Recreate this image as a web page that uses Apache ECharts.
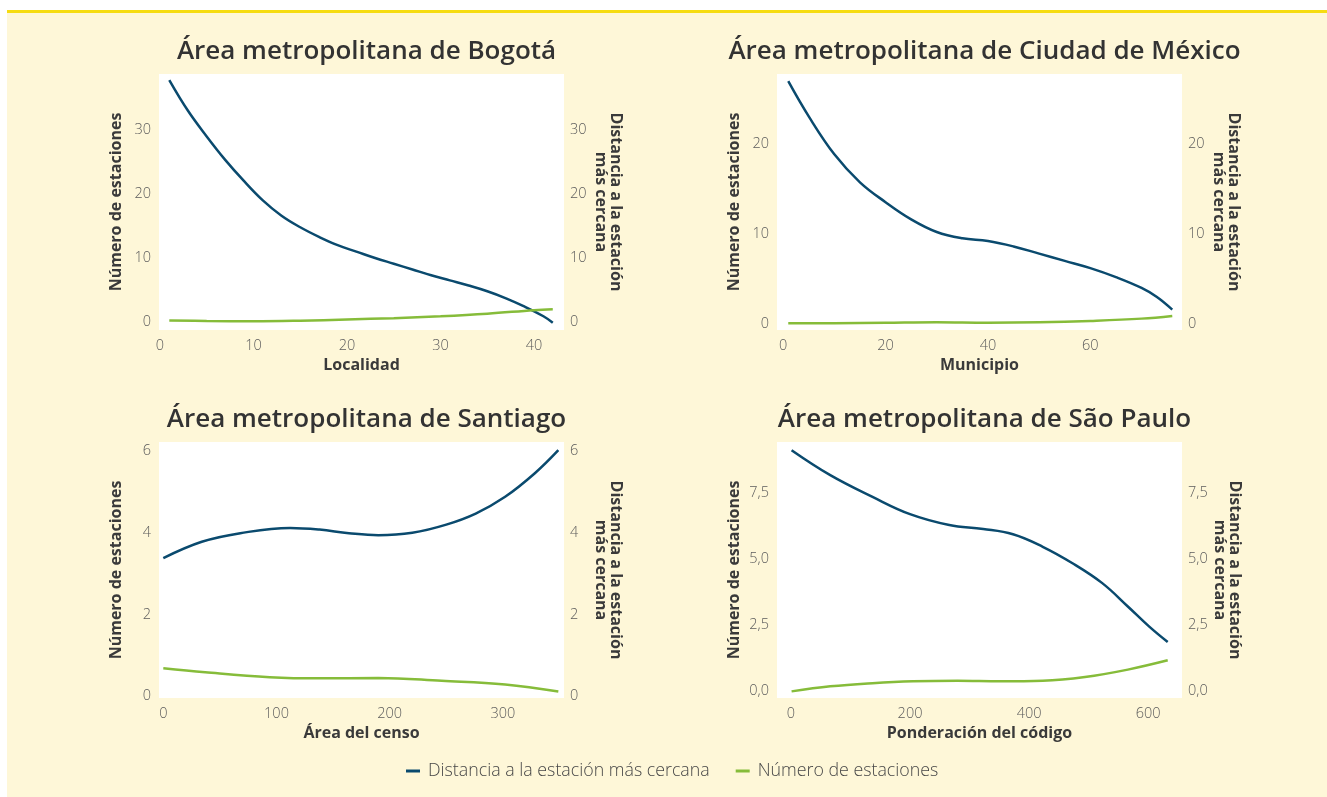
<!DOCTYPE html>
<html><head><meta charset="utf-8">
<script src="https://cdn.jsdelivr.net/npm/echarts@6/dist/echarts.min.js"></script>
<style>
html,body{margin:0;padding:0;background:#fff;width:1327px;height:797px;overflow:hidden}
#bg{position:absolute;left:7px;top:10px;width:1320px;height:787px;background:#FEF7D8;border-top:3px solid #F6DC11;box-sizing:border-box}
#chart{position:absolute;left:0;top:0;width:1327px;height:797px}
</style></head><body><div id="bg"></div><div id="chart"></div>
<script>
// ---- Data ----
const bogotaDistX = [1,3,5,7,9,11,13,15,17,19,21,23,25,27,29,31,33,35,37,39,41,42];
const bogotaDistY = [37.8,33.0,29.0,25.3,22.0,19.0,16.6,14.8,13.3,12.0,11.0,10.0,9.1,8.2,7.3,6.5,5.7,4.8,3.7,2.4,0.9,-0.1];
const bogotaNumX = [1,5,10,15,20,25,30,35,40,42];
const bogotaNumY = [0.25,0.15,0.1,0.2,0.4,0.6,0.9,1.3,1.85,2.0];
const bogotaXTicks = [0,10,20,30,40];
const bogotaYTicks = [0,10,20,30];

const cdmxDistX = [1,5,10,15,20,25,30,35,40,45,50,55,60,65,70,73,76];
const cdmxDistY = [26.9,23.0,18.8,15.7,13.5,11.6,10.2,9.5,9.2,8.6,7.8,7.0,6.2,5.2,4.0,3.0,1.6];
const cdmxNumX = [1,10,20,30,40,50,60,70,76];
const cdmxNumY = [0.08,0.1,0.15,0.2,0.15,0.2,0.35,0.6,0.9];
const cdmxXTicks = [0,20,40,60];
const cdmxYTicks = [0,10,20];

const santDistX = [0,34,68,112,138,164,190,220,250,276,302,328,349];
const santDistY = [3.38,3.78,3.99,4.12,4.08,3.99,3.94,4.0,4.2,4.47,4.88,5.45,6.02];
const santNumX = [0,37,94,138,190,246,302,349];
const santNumY = [0.69,0.59,0.47,0.44,0.45,0.38,0.29,0.12];
const santXTicks = [0,100,200,300];
const santYTicks = [0,2,4,6];

const spDistX = [1,66,137,200,266,323,373,423,473,523,566,602,633];
const spDistY = [9.09,8.15,7.33,6.68,6.27,6.12,5.92,5.45,4.83,4.08,3.2,2.44,1.86];
const spNumX = [1,66,137,205,280,352,423,494,566,633];
const spNumY = [0.0,0.19,0.31,0.38,0.4,0.38,0.4,0.54,0.82,1.17];
const spXTicks = [0,200,400,600];
const spYTicks = [0,2.5,5,7.5];

const titles = ['Área metropolitana de Bogotá','Área metropolitana de Ciudad de México','Área metropolitana de Santiago','Área metropolitana de São Paulo'];
const xNames = ['Localidad','Municipio','Área del censo','Ponderación del código'];
const leftYName = 'Número de estaciones';
const rightYName = 'Distancia a la estación\nmás cercana';
const distName = 'Distancia a la estación más cercana';
const numName = 'Número de estaciones';

// ---- Layout ----
const FONT = 'Open Sans';
const panels = [
  {left:159, top:74, xMin:-0.1, xMax:43.2, yMin:-1.25, yMax:38.75, xT:bogotaXTicks, yT:bogotaYTicks, dec:false,
   dist:[bogotaDistX,bogotaDistY], num:[bogotaNumX,bogotaNumY]},
  {left:777, top:74, xMin:-1.2, xMax:77.9, yMin:-0.66, yMax:27.7, xT:cdmxXTicks, yT:cdmxYTicks, dec:false,
   dist:[cdmxDistX,cdmxDistY], num:[cdmxNumX,cdmxNumY]},
  {left:159, top:442, xMin:-3.8, xMax:354, yMin:-0.04, yMax:6.22, xT:santXTicks, yT:santYTicks, dec:false,
   dist:[santDistX,santDistY], num:[santNumX,santNumY]},
  {left:777, top:442, xMin:-23.5, xMax:657, yMin:-0.25, yMax:9.4, xT:spXTicks, yT:spYTicks, dec:true,
   dist:[spDistX,spDistY], num:[spNumX,spNumY]}
];
const W = 405, H = 256;
const BLUE = '#0a4a6e', GREEN = '#86bc3a';
const pairs = (xs, ys) => xs.map((x, i) => [x, ys[i]]);
const labelStyle = {color:'#5c5c5c', fontSize:14.5, fontFamily:FONT, fontWeight:300};
const nameStyle = {color:'#3a3a3a', fontSize:16, fontFamily:FONT, fontWeight:'bold'};

const option = {
  animation:false,
  title: panels.map((p, i) => ({
    text: titles[i], left: p.left + W/2, top: p.top - 40, textAlign:'center',
    textStyle:{color:'#333', fontSize:26, fontWeight:600, fontFamily:FONT}
  })),
  legend: {
    left: 406, top: 762, padding:0, itemWidth:14, itemHeight:3, itemGap:26, icon:'rect',
    data:[distName, numName],
    textStyle:{color:'#474747', fontSize:17.8, fontFamily:FONT, fontWeight:300, padding:[0,0,0,3]}
  },
  grid: panels.map(p => ({left:p.left, top:p.top, width:W, height:H, show:true, backgroundColor:'#fff',
    borderWidth:0, containLabel:false, outerBoundsMode:'none'})),
  xAxis: panels.map((p, i) => ({
    type:'value', gridIndex:i, min:p.xMin, max:p.xMax,
    name:xNames[i], nameLocation:'middle', nameGap:27, nameTextStyle:nameStyle,
    axisLine:{show:false}, axisTick:{show:false}, splitLine:{show:false},
    axisLabel:Object.assign({customValues:p.xT, margin:8}, labelStyle)
  })),
  yAxis: panels.flatMap((p, i) => {
    const fmt = v => p.dec ? v.toFixed(1).replace('.', ',') : String(v);
    const base = {type:'value', gridIndex:i, min:p.yMin, max:p.yMax, nameLocation:'middle',
      axisLine:{show:false}, axisTick:{show:false}, splitLine:{show:false}};
    return [
      Object.assign({}, base, {position:'left', name:leftYName, nameRotate:90, nameGap:35,
        nameTextStyle:nameStyle,
        axisLabel:Object.assign({customValues:p.yT, margin:8, formatter:fmt}, labelStyle)}),
      Object.assign({}, base, {position:'right', name:rightYName, nameRotate:-90, nameGap:29,
        nameTextStyle:Object.assign({lineHeight:15}, nameStyle),
        axisLabel:Object.assign({customValues:p.yT, margin:6, formatter:fmt}, labelStyle)})
    ];
  }),
  series: panels.flatMap((p, i) => [
    {type:'line', name:distName, xAxisIndex:i, yAxisIndex:2*i+1, data:pairs(p.dist[0], p.dist[1]),
     smooth:0.4, showSymbol:false, color:BLUE, lineStyle:{color:BLUE, width:2.5}},
    {type:'line', name:numName, xAxisIndex:i, yAxisIndex:2*i, data:pairs(p.num[0], p.num[1]),
     smooth:0.4, showSymbol:false, color:GREEN, lineStyle:{color:GREEN, width:2.5}}
  ])
};
const chart = echarts.init(document.getElementById('chart'), null, {renderer:'canvas'});
chart.setOption(option);
</script></body></html>
